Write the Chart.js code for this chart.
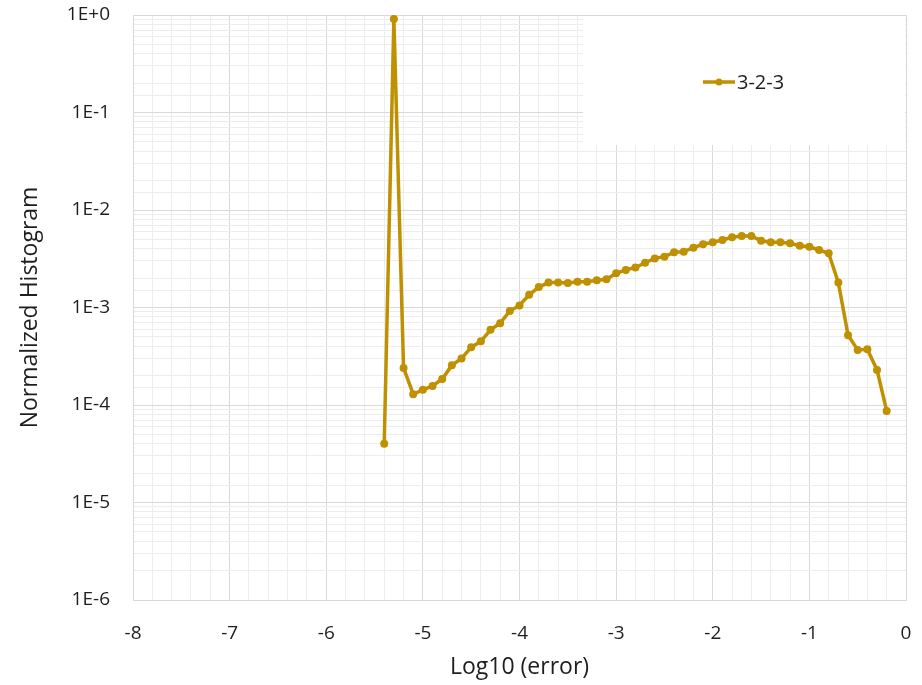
<!DOCTYPE html>
<html>
<head>
<meta charset="utf-8">
<script src="https://cdn.jsdelivr.net/npm/chart.js@4.4.1/dist/chart.umd.min.js"></script>
<style>
  html, body { margin: 0; padding: 0; background: #ffffff; }
  #wrap { width: 922px; height: 685px; }
</style>
</head>
<body>
<div id="wrap"><canvas id="c" width="922" height="685"></canvas></div>
<script>
// ---- data ----
const seriesName = '3-2-3';
const xValues = [-5.4, -5.3, -5.2, -5.1, -5.0, -4.9, -4.8, -4.7, -4.6, -4.5,
                 -4.4, -4.3, -4.2, -4.1, -4.0, -3.9, -3.8, -3.7, -3.6, -3.5,
                 -3.4, -3.3, -3.2, -3.1, -3.0, -2.9, -2.8, -2.7, -2.6, -2.5,
                 -2.4, -2.3, -2.2, -2.1, -2.0, -1.9, -1.8, -1.7, -1.6, -1.5,
                 -1.4, -1.3, -1.2, -1.1, -1.0, -0.9, -0.8, -0.7, -0.6, -0.5,
                 -0.4, -0.3, -0.2];
const yValues = [4.0e-5, 0.91, 2.4e-4, 1.29e-4, 1.43e-4, 1.57e-4, 1.85e-4, 2.55e-4, 3.0e-4, 3.9e-4,
                 4.5e-4, 5.9e-4, 6.9e-4, 9.2e-4, 1.05e-3, 1.35e-3, 1.62e-3, 1.80e-3, 1.80e-3, 1.78e-3,
                 1.84e-3, 1.84e-3, 1.90e-3, 1.95e-3, 2.24e-3, 2.43e-3, 2.57e-3, 2.88e-3, 3.19e-3, 3.32e-3,
                 3.68e-3, 3.74e-3, 4.11e-3, 4.45e-3, 4.67e-3, 4.92e-3, 5.25e-3, 5.41e-3, 5.41e-3, 4.84e-3,
                 4.67e-3, 4.67e-3, 4.56e-3, 4.30e-3, 4.20e-3, 3.89e-3, 3.60e-3, 1.80e-3, 5.2e-4, 3.67e-4,
                 3.72e-4, 2.29e-4, 8.7e-5];
const xTickLabels = ['-8', '-7', '-6', '-5', '-4', '-3', '-2', '-1', '0'];
const yTickLabels = ['1E-6', '1E-5', '1E-4', '1E-3', '1E-2', '1E-1', '1E+0'];
const xTitle = 'Log10 (error)';
const yTitle = 'Normalized Histogram';

// ---- styling ----
const FONT = "'Open Sans', 'Liberation Sans', sans-serif";
const LINE_COLOR = '#BF9000';
const MAJOR_GRID = '#d9d9d9';
const MINOR_GRID = '#ededed';
const TEXT = '#1e1e1e';

const xMin = Number(xTickLabels[0]);
const xMax = Number(xTickLabels[xTickLabels.length - 1]);
const yMin = Number(yTickLabels[0]);
const yMax = Number(yTickLabels[yTickLabels.length - 1]);

function isInt(v) { return Math.abs(v - Math.round(v)) < 1e-6; }
function isDecade(v) { const l = Math.log10(v); return Math.abs(l - Math.round(l)) < 1e-6; }

const points = xValues.map((x, i) => ({ x: x, y: yValues[i] }));

const legendBox = {
  id: 'legendBox',
  beforeDatasetsDraw(chart) {
    const ctx = chart.ctx;
    const a = chart.chartArea;
    ctx.save();
    ctx.fillStyle = '#ffffff';
    ctx.fillRect(583, a.top + 1, a.right - 1 - 583, 145 - a.top - 1);
    ctx.restore();
  },
  afterDatasetsDraw(chart) {
    const ctx = chart.ctx;
    const ds = chart.data.datasets[0];
    ctx.save();
    const y = 82;
    ctx.strokeStyle = ds.borderColor;
    ctx.lineWidth = 3.5;
    ctx.beginPath();
    ctx.moveTo(703, y);
    ctx.lineTo(735, y);
    ctx.stroke();
    ctx.fillStyle = ds.borderColor;
    ctx.beginPath();
    ctx.arc(719, y, 3.5, 0, Math.PI * 2);
    ctx.fill();
    ctx.fillStyle = TEXT;
    ctx.font = "20px " + FONT;
    ctx.textBaseline = 'middle';
    ctx.textAlign = 'left';
    ctx.fillText(ds.label, 737, y + 1);
    ctx.restore();
  }
};

new Chart(document.getElementById('c'), {
  type: 'line',
  data: {
    datasets: [{
      label: seriesName,
      data: points,
      borderColor: LINE_COLOR,
      backgroundColor: LINE_COLOR,
      borderWidth: 3.5,
      pointRadius: 4,
      pointBackgroundColor: LINE_COLOR,
      pointBorderWidth: 0,
      tension: 0,
      fill: false
    }]
  },
  options: {
    responsive: false,
    animation: false,
    devicePixelRatio: 1,
    layout: { padding: { top: 15, right: 16, left: 0, bottom: 0 } },
    plugins: {
      legend: { display: false },
      tooltip: { enabled: false }
    },
    scales: {
      x: {
        type: 'linear',
        min: xMin,
        max: xMax,
        afterFit(scale) {
          scale.height = 85;
          scale.paddingLeft = 0; scale.paddingRight = 0;
        },
        afterBuildTicks(scale) {
          const t = [];
          for (let k = 0; k <= Math.round((xMax - xMin) * 5); k++) {
            t.push({ value: xMin + k * 0.2 });
          }
          scale.ticks = t;
        },
        ticks: {
          autoSkip: false,
          maxRotation: 0,
          padding: 22,
          color: TEXT,
          font: { family: FONT, size: 19 },
          callback(v) {
            if (!isInt(v)) return '';
            const r = Math.round(v);
            const lbl = xTickLabels.find(s => Number(s) === r);
            return lbl !== undefined ? lbl : '';
          }
        },
        grid: {
          drawTicks: false,
          color(ctx) { return (ctx.tick && isInt(ctx.tick.value)) ? MAJOR_GRID : MINOR_GRID; },
          lineWidth: 1
        },
        border: { color: MAJOR_GRID },
        title: {
          display: true,
          text: xTitle,
          color: TEXT,
          font: { family: FONT, size: 23 },
          padding: { top: 0, bottom: 4 }
        }
      },
      y: {
        type: 'logarithmic',
        min: yMin,
        max: yMax,
        afterFit(scale) {
          scale.width = 133;
          scale.paddingTop = 0; scale.paddingBottom = 0;
        },
        ticks: {
          autoSkip: false,
          padding: 23,
          color: TEXT,
          font: { family: FONT, size: 19 },
          callback(v) {
            if (!isDecade(v)) return '';
            const e = Math.round(Math.log10(v));
            const idx = e - Math.round(Math.log10(yMin));
            return yTickLabels[idx] !== undefined ? yTickLabels[idx] : '';
          }
        },
        grid: {
          drawTicks: false,
          color(ctx) { return (ctx.tick && isDecade(ctx.tick.value)) ? MAJOR_GRID : MINOR_GRID; },
          lineWidth: 1
        },
        border: { color: MAJOR_GRID },
        title: {
          display: true,
          text: yTitle,
          color: TEXT,
          font: { family: FONT, size: 23 },
          padding: { top: 17, bottom: 0 }
        }
      }
    }
  },
  plugins: [legendBox]
});
</script>
</body>
</html>
